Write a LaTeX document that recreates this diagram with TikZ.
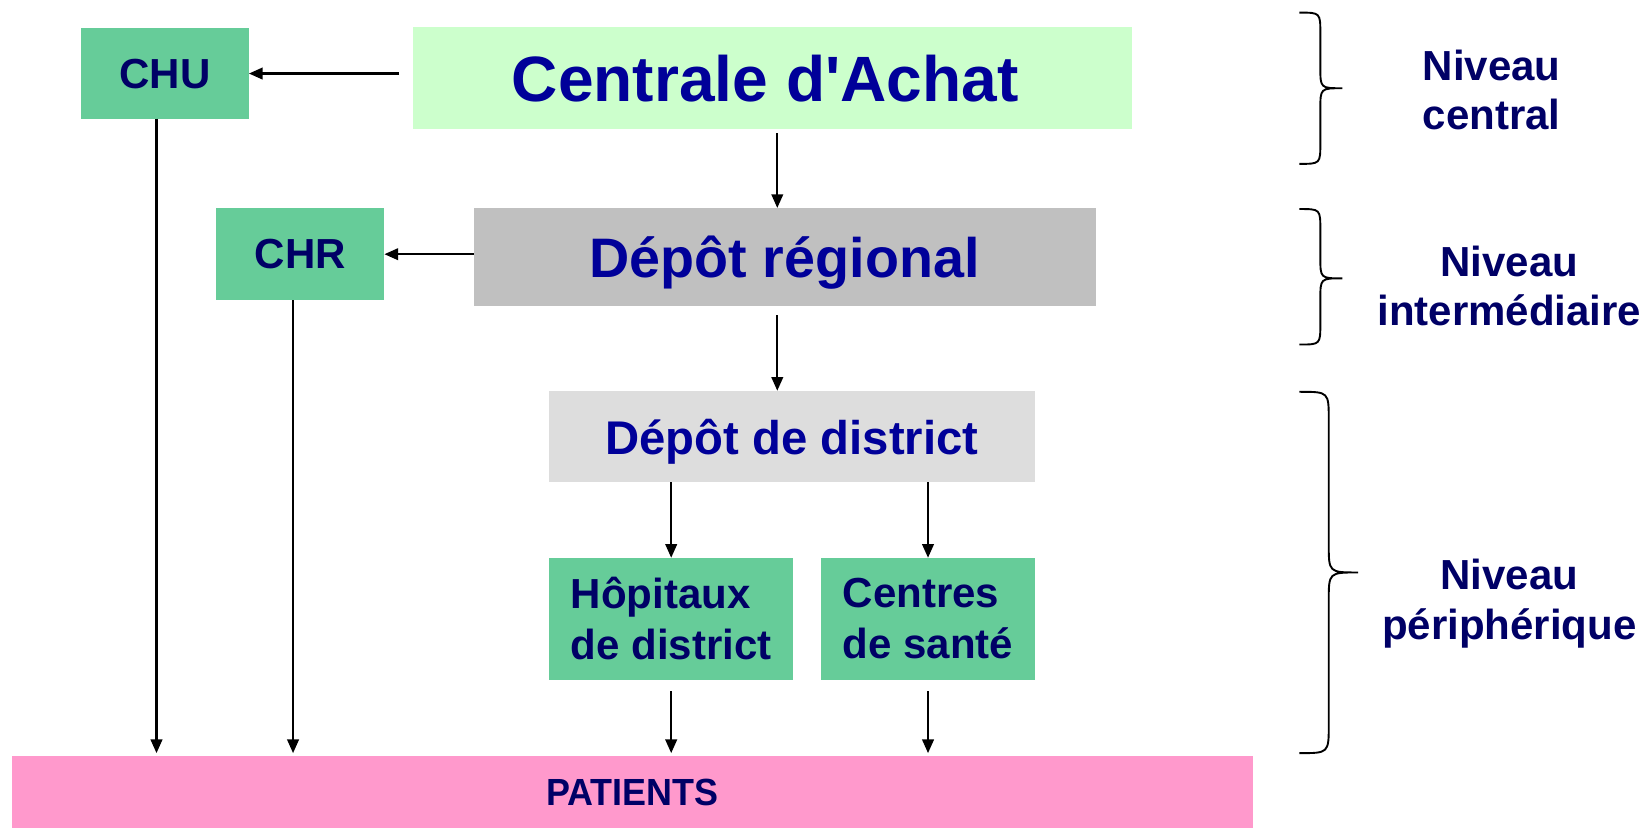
\documentclass[tikz,border=0pt]{standalone}
\usepackage{fontspec}
\setmainfont{Liberation Sans}[Ligatures=TeXOff]
\usetikzlibrary{arrows.meta}
\definecolor{navy}{HTML}{000066}
\definecolor{tblue}{HTML}{000099}
\definecolor{boxgreen}{HTML}{66CC99}
\definecolor{lightgreen}{HTML}{CCFFCC}
\definecolor{grayA}{HTML}{C0C0C0}
\definecolor{grayB}{HTML}{DDDDDD}
\definecolor{pinkbox}{HTML}{FF99CC}
\begin{document}
\begin{tikzpicture}[x=0.5pt,y=-0.5pt,
  box/.style={inner sep=0pt, outer sep=0pt, font=\bfseries},
  small/.style={box, fill=boxgreen, text=navy, font=\bfseries\fontsize{20}{24}\selectfont},
  arr/.style={-{Triangle[length=6.5pt,width=5.5pt]}, line width=1pt},
  lvl/.style={align=center, text=navy, font=\bfseries\fontsize{20}{23.5}\selectfont, inner sep=0pt},
  brace/.style={line width=0.9pt}]
\path[use as bounding box] (0,0) rectangle (1568,788);

% boxes
\node[small, minimum width=80pt, minimum height=43pt, text depth=0pt] (chu) at (157,70) {CHU};
\node[box, fill=lightgreen, text=tblue, minimum width=342.5pt, minimum height=48.5pt,
      text depth=0pt, font=\bfseries\fontsize{30.5}{36}\selectfont] (centrale) at (735.5,74.5) {Centrale d'Achat\hspace*{7pt}};
\node[small, minimum width=80pt, minimum height=44pt, text depth=0pt] (chr) at (286,242) {CHR};
\node[box, fill=grayA, text=tblue, minimum width=296pt, minimum height=46.5pt,
      text depth=0pt, font=\bfseries\fontsize{26.5}{32}\selectfont] (depreg) at (747,244.5) {Dépôt régional};
\node[box, fill=grayB, text=tblue, minimum width=231pt, minimum height=43.5pt,
      text depth=0pt, font=\bfseries\fontsize{22.5}{27}\selectfont] (depdist) at (754,415.5) {Dépôt de district};
\node[small, minimum width=116pt, minimum height=58pt, align=left] (hop) at (639,589) {Hôpitaux\\de district};
\node[small, minimum width=101.5pt, minimum height=58pt, align=left] (cs) at (883.5,589) {Centres\\de santé};
\node[box, fill=pinkbox, text=navy, minimum width=591pt, minimum height=34pt,
      font=\bfseries\fontsize{18}{22}\selectfont] (pat) at (602,754) {\scalebox{0.95}[1]{PATIENTS}};

% helper x positions
\coordinate (xa) at (740,0);
\coordinate (xchu) at (149,0);
\coordinate (xchr) at (279,0);

% connectors
\draw[arr, shorten <=6.5pt] (chu.east -| centrale.west) -- (chu.east);
\draw[arr, shorten <=2pt] (centrale.south -| xa) -- (depreg.north -| xa);
\draw[arr] (chr.east -| depreg.west) -- (chr.east);
\draw[arr, shorten <=4.5pt] (depreg.south -| xa) -- (depdist.north -| xa);
\draw[arr] (depdist.south -| hop.north) -- (hop.north);
\draw[arr] (depdist.south -| cs.north) -- (cs.north);
\draw[arr, shorten <=5.5pt, shorten >=1.5pt] (hop.south) -- (hop.south |- pat.north);
\draw[arr, shorten <=5.5pt, shorten >=1.5pt] (cs.south) -- (cs.south |- pat.north);
\draw[arr, shorten >=1.5pt] (chu.south -| xchu) -- (pat.north -| xchu);
\draw[arr, shorten >=1.5pt] (chr.south -| xchr) -- (pat.north -| xchr);

% braces
\draw[brace] (1237,12) .. controls (1257,12) .. (1257,32) -- (1257,64)
  .. controls (1257,84) .. (1278,84) .. controls (1257,84) .. (1257,104)
  -- (1257,136) .. controls (1257,156) .. (1237,156);
\draw[brace] (1237,199) .. controls (1257,199) .. (1257,219) -- (1257,245)
  .. controls (1257,265) .. (1278,265) .. controls (1257,265) .. (1257,285)
  -- (1257,308) .. controls (1257,328) .. (1237,328);
\draw[brace] (1237,373) .. controls (1265,373) .. (1265,400) -- (1265,518)
  .. controls (1265,545) .. (1293,545) .. controls (1265,545) .. (1265,572)
  -- (1265,690) .. controls (1265,717) .. (1237,717);

% level labels
\node[lvl] (l1) at (1420,85.5) {Niveau\\central};
\node[lvl] (l2) at (1437,272) {Niveau\\intermédiaire};
\node[lvl] (l3) at (1437,574.5) {Niveau\\périphérique};
\end{tikzpicture}
\end{document}
